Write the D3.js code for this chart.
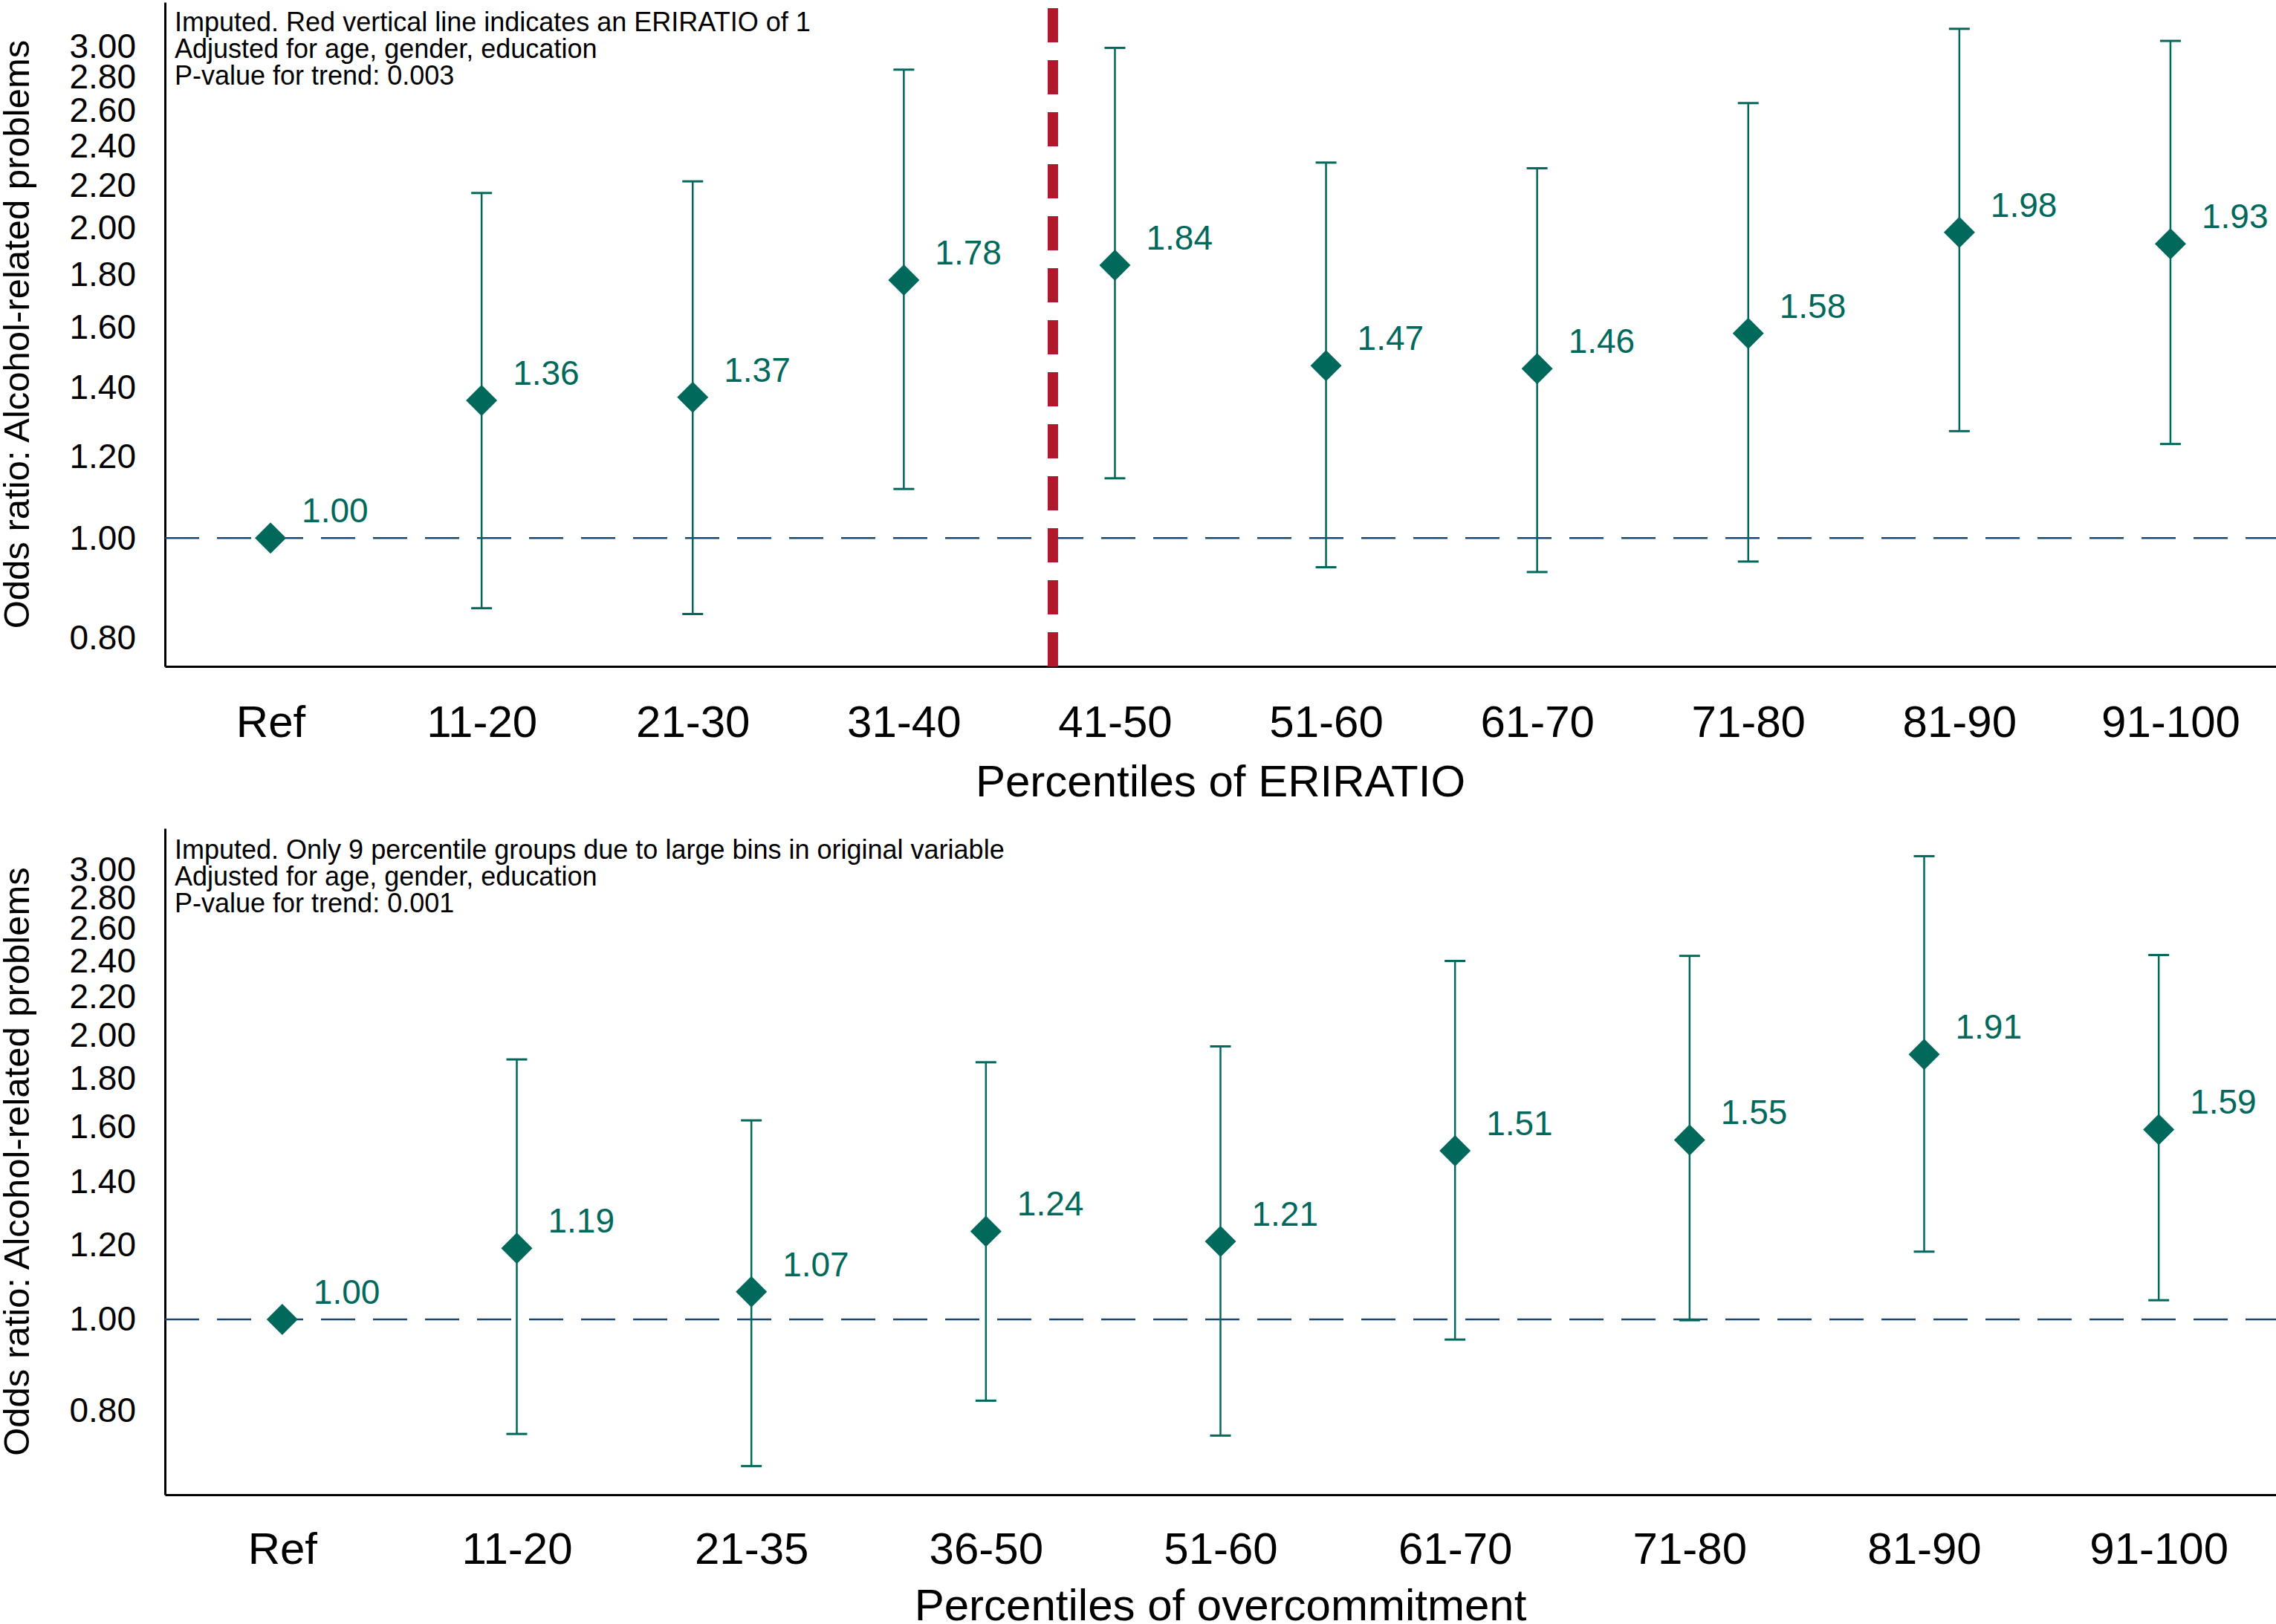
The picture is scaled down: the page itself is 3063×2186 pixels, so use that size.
<!DOCTYPE html>
<html>
<head>
<meta charset="utf-8">
<script src="https://cdn.jsdelivr.net/npm/d3@7"></script>
<style>
  html, body { margin: 0; padding: 0; background: #fff; }
  svg { display: block; font-family: "Liberation Sans", Arial, sans-serif; }
</style>
</head>
<body>
<svg id="chart" width="3063" height="2186"></svg>
<script>
// --- data: top panel (ERIRATIO)
var eriCats = ['Ref', '11-20', '21-30', '31-40', '41-50', '51-60', '61-70', '71-80', '81-90', '91-100'];
var eriOR   = [1.00, 1.36, 1.37, 1.78, 1.84, 1.47, 1.46, 1.58, 1.98, 1.93];
var eriLo   = [null, 0.855, 0.844, 1.116, 1.143, 0.937, 0.927, 0.949, 1.27, 1.234];
var eriHi   = [null, 2.162, 2.219, 2.848, 2.99, 2.314, 2.285, 2.643, 3.12, 3.037];
var eriNotes = ['Imputed. Red vertical line indicates an ERIRATIO of 1',
                'Adjusted for age, gender, education',
                'P-value for trend: 0.003'];
// position of ERIRATIO = 1 on the category axis (in category units)
var eriOnePos = 3.706;

// --- data: bottom panel (overcommitment)
var ocCats = ['Ref', '11-20', '21-35', '36-50', '51-60', '61-70', '71-80', '81-90', '91-100'];
var ocOR   = [1.00, 1.19, 1.07, 1.24, 1.21, 1.51, 1.55, 1.91, 1.59];
var ocLo   = [null, 0.756, 0.699, 0.820, 0.753, 0.952, 0.998, 1.18, 1.048];
var ocHi   = [null, 1.887, 1.626, 1.874, 1.948, 2.40, 2.43, 3.10, 2.435];
var ocNotes = ['Imputed. Only 9 percentile groups due to large bins in original variable',
               'Adjusted for age, gender, education',
               'P-value for trend: 0.001'];

var yTicks = [0.8, 1.0, 1.2, 1.4, 1.6, 1.8, 2.0, 2.2, 2.4, 2.6, 2.8, 3.0];

var teal = '#00695c', navy = '#1a476f', red = '#b0182e';

var svg = d3.select('#chart');

function panel(opts) {
  var x = d3.scalePoint().domain(opts.cats).range([opts.left, opts.right]).padding(0.5);
  var y = d3.scaleLog().domain(opts.yDomain).range([opts.bottom, opts.top]);
  var g = svg.append('g');

  // y axis
  var yAxis = g.append('g')
    .attr('transform', 'translate(' + opts.left + ',0)')
    .call(d3.axisLeft(y).tickValues(yTicks).tickFormat(d3.format('.2f'))
      .tickSize(0).tickSizeOuter(0).tickPadding(39));
  yAxis.select('.domain').attr('stroke', '#000').attr('stroke-width', 3);
  yAxis.selectAll('text').attr('font-size', 46).attr('fill', '#000')
    .attr('font-family', '"Liberation Sans", Arial, sans-serif');

  // x axis
  var xAxis = g.append('g')
    .attr('transform', 'translate(0,' + opts.bottom + ')')
    .call(d3.axisBottom(x).tickSize(0).tickSizeOuter(0));
  xAxis.select('.domain').attr('stroke', '#000').attr('stroke-width', 3);
  xAxis.selectAll('text').attr('font-size', 60).attr('fill', '#000')
    .attr('font-family', '"Liberation Sans", Arial, sans-serif')
    .attr('y', opts.tickBaseline).attr('dy', 0);

  // axis titles
  g.append('text')
    .attr('x', (opts.left + opts.right) / 2).attr('y', opts.titleBaseline)
    .attr('text-anchor', 'middle').attr('font-size', 60)
    .text(opts.xTitle);
  g.append('text')
    .attr('transform', 'translate(39,' + ((opts.top + opts.bottom) / 2) + ') rotate(-90)')
    .attr('text-anchor', 'middle').attr('font-size', 49)
    .text('Odds ratio: Alcohol-related problems');

  // notes
  g.selectAll('.note').data(opts.notes).enter().append('text')
    .attr('class', 'note')
    .attr('x', opts.left + 13)
    .attr('y', function(d, i) { return opts.noteTop + i * 36; })
    .attr('font-size', 36)
    .text(function(d) { return d; });

  // reference line at OR = 1
  g.append('line')
    .attr('x1', opts.left).attr('x2', opts.right)
    .attr('y1', y(1)).attr('y2', y(1))
    .attr('stroke', navy).attr('stroke-width', 2.5)
    .attr('stroke-dasharray', '46,24');

  // optional vertical marker line
  if (opts.vline != null) {
    var vx = opts.left + x.step() * (opts.vline + 0.5);
    g.append('line')
      .attr('x1', vx).attr('x2', vx)
      .attr('y1', opts.top + 8).attr('y2', opts.bottom)
      .attr('stroke', red).attr('stroke-width', 14)
      .attr('stroke-dasharray', '46,24');
  }

  var rows = opts.cats.map(function(c, i) {
    return { cat: c, or: opts.or[i], lo: opts.lo[i], hi: opts.hi[i] };
  });
  var ci = rows.filter(function(d) { return d.lo != null; });

  // confidence intervals
  g.selectAll('.ci').data(ci).enter().append('line')
    .attr('x1', function(d) { return x(d.cat); })
    .attr('x2', function(d) { return x(d.cat); })
    .attr('y1', function(d) { return y(d.lo); })
    .attr('y2', function(d) { return y(d.hi); })
    .attr('stroke', teal).attr('stroke-width', 2.5);
  ['lo', 'hi'].forEach(function(k) {
    g.selectAll('.cap-' + k).data(ci).enter().append('line')
      .attr('x1', function(d) { return x(d.cat) - 14; })
      .attr('x2', function(d) { return x(d.cat) + 14; })
      .attr('y1', function(d) { return y(d[k]); })
      .attr('y2', function(d) { return y(d[k]); })
      .attr('stroke', teal).attr('stroke-width', 3);
  });

  // diamonds
  g.selectAll('.pt').data(rows).enter().append('path')
    .attr('d', 'M0,-21L21,0L0,21L-21,0Z')
    .attr('transform', function(d) { return 'translate(' + x(d.cat) + ',' + y(d.or) + ')'; })
    .attr('fill', teal);

  // value labels
  g.selectAll('.lbl').data(rows).enter().append('text')
    .attr('x', function(d) { return x(d.cat) + 42; })
    .attr('y', function(d) { return y(d.or) - 21; })
    .attr('font-size', 46).attr('fill', teal)
    .text(function(d) { return d3.format('.2f')(d.or); });
}

panel({
  cats: eriCats, or: eriOR, lo: eriLo, hi: eriHi, notes: eriNotes,
  left: 222, right: 3063, top: 3, bottom: 897,
  yDomain: [0.7508, 3.311],
  tickBaseline: 95, titleBaseline: 1072, noteTop: 42,
  xTitle: 'Percentiles of ERIRATIO', vline: eriOnePos
});

panel({
  cats: ocCats, or: ocOR, lo: ocLo, hi: ocHi, notes: ocNotes,
  left: 222, right: 3063, top: 1115, bottom: 2012,
  yDomain: [0.6517, 3.318],
  tickBaseline: 93, titleBaseline: 2181, noteTop: 1156,
  xTitle: 'Percentiles of overcommitment', vline: null
});
</script>
</body>
</html>
